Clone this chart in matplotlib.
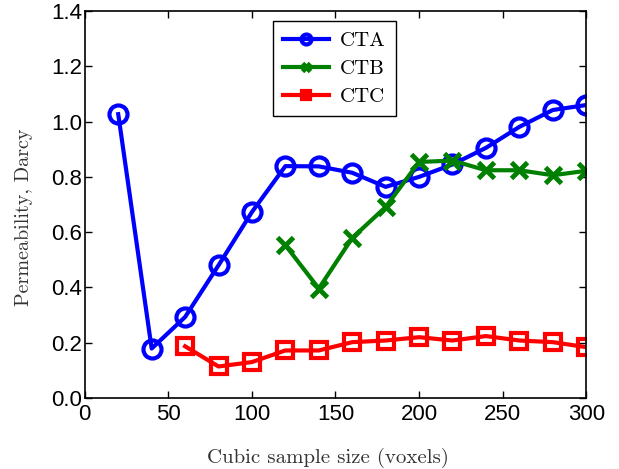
import matplotlib
matplotlib.use("Agg")
import matplotlib.pyplot as plt

# Permeability versus cubic sample size for three cores
sizes_a = [20, 40, 60, 80, 100, 120, 140, 160, 180, 200, 220, 240, 260, 280, 300]
perm_a = [1.027, 0.179, 0.293, 0.480, 0.673, 0.839, 0.838, 0.815, 0.764, 0.800,
          0.845, 0.905, 0.981, 1.042, 1.060]

sizes_b = [120, 140, 160, 180, 200, 220, 240, 260, 280, 300]
perm_b = [0.553, 0.396, 0.579, 0.691, 0.854, 0.859, 0.824, 0.824, 0.806, 0.822]

sizes_c = [60, 80, 100, 120, 140, 160, 180, 200, 220, 240, 260, 280, 300]
perm_c = [0.187, 0.114, 0.130, 0.172, 0.172, 0.202, 0.208, 0.220, 0.208, 0.224,
          0.208, 0.202, 0.184]

xticks = [0, 50, 100, 150, 200, 250, 300]
yticks = [0.0, 0.2, 0.4, 0.6, 0.8, 1.0, 1.2, 1.4]

serif = "cmr10"

fig = plt.figure(figsize=(6.19, 4.69), dpi=100)
ax = fig.add_axes([0.137, 0.1514, 0.810, 0.825])

ax.plot(sizes_a, perm_a, color="blue", lw=3, marker="o", ms=13,
        mfc="none", mew=3, label="CTA")
ax.plot(sizes_b, perm_b, color="green", lw=3, marker="x", ms=11,
        mew=3.5, label="CTB")
ax.plot(sizes_c, perm_c, color="red", lw=3, marker="s", ms=11.5,
        mfc="none", mew=3, label="CTC")

ax.set_xlim(0, 300)
ax.set_ylim(0, 1.4)
ax.set_xticks(xticks)
ax.set_yticks(yticks)
ax.set_yticklabels([f"{v:.1f}" for v in yticks])
ax.tick_params(direction="in", top=True, right=True, length=5, width=1,
               labelsize=16)
ax.tick_params(axis="x", pad=4)
ax.tick_params(axis="y", pad=2)
for lab in ax.get_xticklabels() + ax.get_yticklabels():
    lab.set_fontfamily("Liberation Sans")
for sp in ax.spines.values():
    sp.set_linewidth(1.2)

ax.set_xlabel("Cubic sample size (voxels)", fontfamily=serif, fontsize=15,
              color="#333333")
ax.set_ylabel("Permeability, Darcy", fontfamily=serif, fontsize=14.5,
              color="#333333")
ax.xaxis.set_label_coords(0.484, -0.128)
ax.yaxis.set_label_coords(-0.104, 0.466)

leg = ax.legend(loc="upper center", bbox_to_anchor=(0.498, 0.985),
                prop={"family": serif, "size": 15}, fancybox=False,
                framealpha=1, edgecolor="black", markerscale=0.55,
                handlelength=2.2, handletextpad=0.5, borderpad=0.5,
                labelspacing=0.45, borderaxespad=0.2)
leg.get_frame().set_linewidth(1.0)

fig.savefig("out.png", dpi=100)
